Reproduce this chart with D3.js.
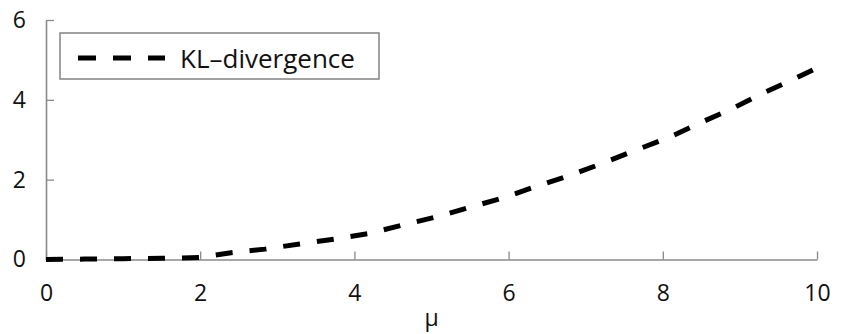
<!DOCTYPE html>
<html>
<head>
<meta charset="utf-8">
<script src="https://cdn.jsdelivr.net/npm/d3@7"></script>
<style>
  body { margin: 0; background: #fff; }
  text { font-family: "Open Sans", "Noto Sans", sans-serif; fill: #111; }
</style>
</head>
<body>
<div id="chart"></div>
<script>
// Data
var muValues = [0, 0.5, 1, 1.5, 2, 2.4, 2.84, 3.29, 3.74, 4.18, 4.62, 5.11, 5.5, 5.94,
                6.37, 6.8, 7.23, 7.65, 8.07, 8.48, 8.9, 9.3, 9.71, 10];
var klValues = [0, 0.01, 0.02, 0.03, 0.05, 0.17, 0.26, 0.39, 0.51, 0.65, 0.86, 1.09, 1.31, 1.55,
                1.84, 2.11, 2.42, 2.74, 3.05, 3.42, 3.78, 4.17, 4.53, 4.8];
var xTicks = [0, 2, 4, 6, 8, 10];
var yTicks = [0, 2, 4, 6];
var seriesName = "KL\u2013divergence";
var xLabel = "\u03bc";

var svgWidth = 843;
var svgHeight = 334;

var margin = { top: 20, right: 26, bottom: 74.5, left: 46 };
var width = svgWidth - margin.left - margin.right;
var height = svgHeight - margin.top - margin.bottom;

var svg = d3.select("#chart")
  .append("svg")
  .attr("width", svgWidth)
  .attr("height", svgHeight);

var chartGroup = svg.append("g")
  .attr("transform", `translate(${margin.left}, ${margin.top})`);

var data = muValues.map(function(m, i) {
  return { mu: m, kl: klValues[i] };
});

// scales
var xLinearScale = d3.scaleLinear().domain([0, 10]).range([0, width]);
var yLinearScale = d3.scaleLinear().domain([0, 6]).range([height, 0]);

// axes, ticks point inwards
var bottomAxis = d3.axisBottom(xLinearScale)
  .tickValues(xTicks)
  .tickFormat(d3.format("d"))
  .tickSize(-8)
  .tickPadding(25)
  .tickSizeOuter(0);
var leftAxis = d3.axisLeft(yLinearScale)
  .tickValues(yTicks)
  .tickFormat(d3.format("d"))
  .tickSize(-8)
  .tickPadding(20)
  .tickSizeOuter(0);

var xAxis = chartGroup.append("g")
  .attr("transform", `translate(0, ${height})`)
  .call(bottomAxis);

var yAxis = chartGroup.append("g")
  .call(leftAxis);

[xAxis, yAxis].forEach(function(ax) {
  ax.select(".domain").attr("stroke", "#8a8a8a").attr("stroke-width", 1.6);
  ax.selectAll(".tick line").attr("stroke", "#8a8a8a").attr("stroke-width", 1.3);
  ax.selectAll(".tick text")
    .attr("fill", "#111")
    .style("font-size", "23px")
    .style("font-family", "'Open Sans', sans-serif");
});

// x axis title
chartGroup.append("text")
  .attr("x", width / 2)
  .attr("y", height + 66)
  .attr("text-anchor", "middle")
  .style("font-size", "23px")
  .text(xLabel);

// the curve
var line = d3.line()
  .x(d => xLinearScale(d.mu))
  .y(d => yLinearScale(d.kl));

chartGroup.append("path")
  .datum(data)
  .attr("d", line)
  .attr("fill", "none")
  .attr("stroke", "#000")
  .attr("stroke-width", 5)
  .attr("stroke-dasharray", "17,17");

// legend
var legend = svg.append("g").attr("transform", "translate(60, 33)");

legend.append("rect")
  .attr("width", 319)
  .attr("height", 46)
  .attr("fill", "#fff")
  .attr("stroke", "#8a8a8a")
  .attr("stroke-width", 1.6);

legend.append("line")
  .attr("x1", 18)
  .attr("x2", 105)
  .attr("y1", 25)
  .attr("y2", 25)
  .attr("stroke", "#000")
  .attr("stroke-width", 5)
  .attr("stroke-dasharray", "18,17");

legend.append("text")
  .attr("x", 120)
  .attr("y", 35)
  .style("font-size", "26px")
  .text(seriesName);
</script>
</body>
</html>
